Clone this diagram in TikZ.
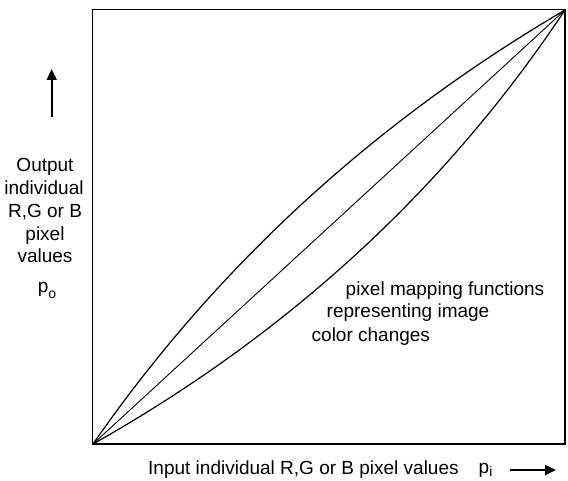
\documentclass[tikz,border=0pt]{standalone}
\usepackage{fontspec}
\setmainfont{Liberation Sans}
\usetikzlibrary{calc,arrows.meta}
\newcommand{\lowsub}[2][-5.5pt]{\raisebox{#1}{\fontsize{14}{14}\selectfont #2}}
\tikzset{
  lbl/.style={inner sep=0pt, font=\fontsize{19}{22.8}\selectfont},
  curve/.style={line width=1.2pt, black},
  axisarrow/.style={line width=1.8pt, -{Triangle[length=11pt,width=10pt]}},
}
\begin{document}
\begin{tikzpicture}[x=1pt,y=-1pt]
\useasboundingbox (0,0) rectangle (568,481);
% frame
\draw[line width=1.2pt] (92.5,9.5) rectangle (565,444);
\coordinate (O) at (93,444);
\coordinate (T) at (565,10);
\coordinate (CU) at (277,179);
\coordinate (CL) at (386,279);
% mapping functions
\draw[curve] (O) .. controls ($(O)!2/3!(CU)$) and ($(T)!2/3!(CU)$) .. (T);
\draw[line width=0.9pt] (O) -- (T);
\draw[curve] (O) .. controls ($(O)!2/3!(CL)$) and ($(T)!2/3!(CL)$) .. (T);
% vertical axis label
\coordinate (va) at (51.7,117);
\coordinate (vb) at (51.7,69);
\draw[axisarrow] (va) -- (vb);
\node[lbl, anchor=base] (l1) at (45,171.7) {Output};
\node[lbl, anchor=base] (l2) at (44,195) {individual};
\node[lbl, anchor=base] (l3) at (45,217.7) {R,G or B};
\node[lbl, anchor=base] (l4) at (45,240.5) {pixel};
\node[lbl, anchor=base] (l5) at (45,263) {values};
\node[lbl, anchor=base] (l6) at (47,293) {p\lowsub{o}};
% horizontal axis label
\node[lbl, anchor=base west] (h1) at (148,474.7) {Input individual R,G or B pixel values};
\node[lbl, anchor=base west] (h2) at (478.5,473.5) {p\lowsub[-3pt]{i}};
\coordinate (ha) at (510,470);
\coordinate (hb) at (556,470);
\draw[axisarrow] (ha) -- (hb);
% annotation
\node[lbl, anchor=base west] (m1) at (345.5,295) {pixel mapping functions};
\node[lbl, anchor=base west] (m2) at (326.5,317.5) {representing image};
\node[lbl, anchor=base west] (m3) at (311.5,341.5) {color changes};
\end{tikzpicture}
\end{document}
